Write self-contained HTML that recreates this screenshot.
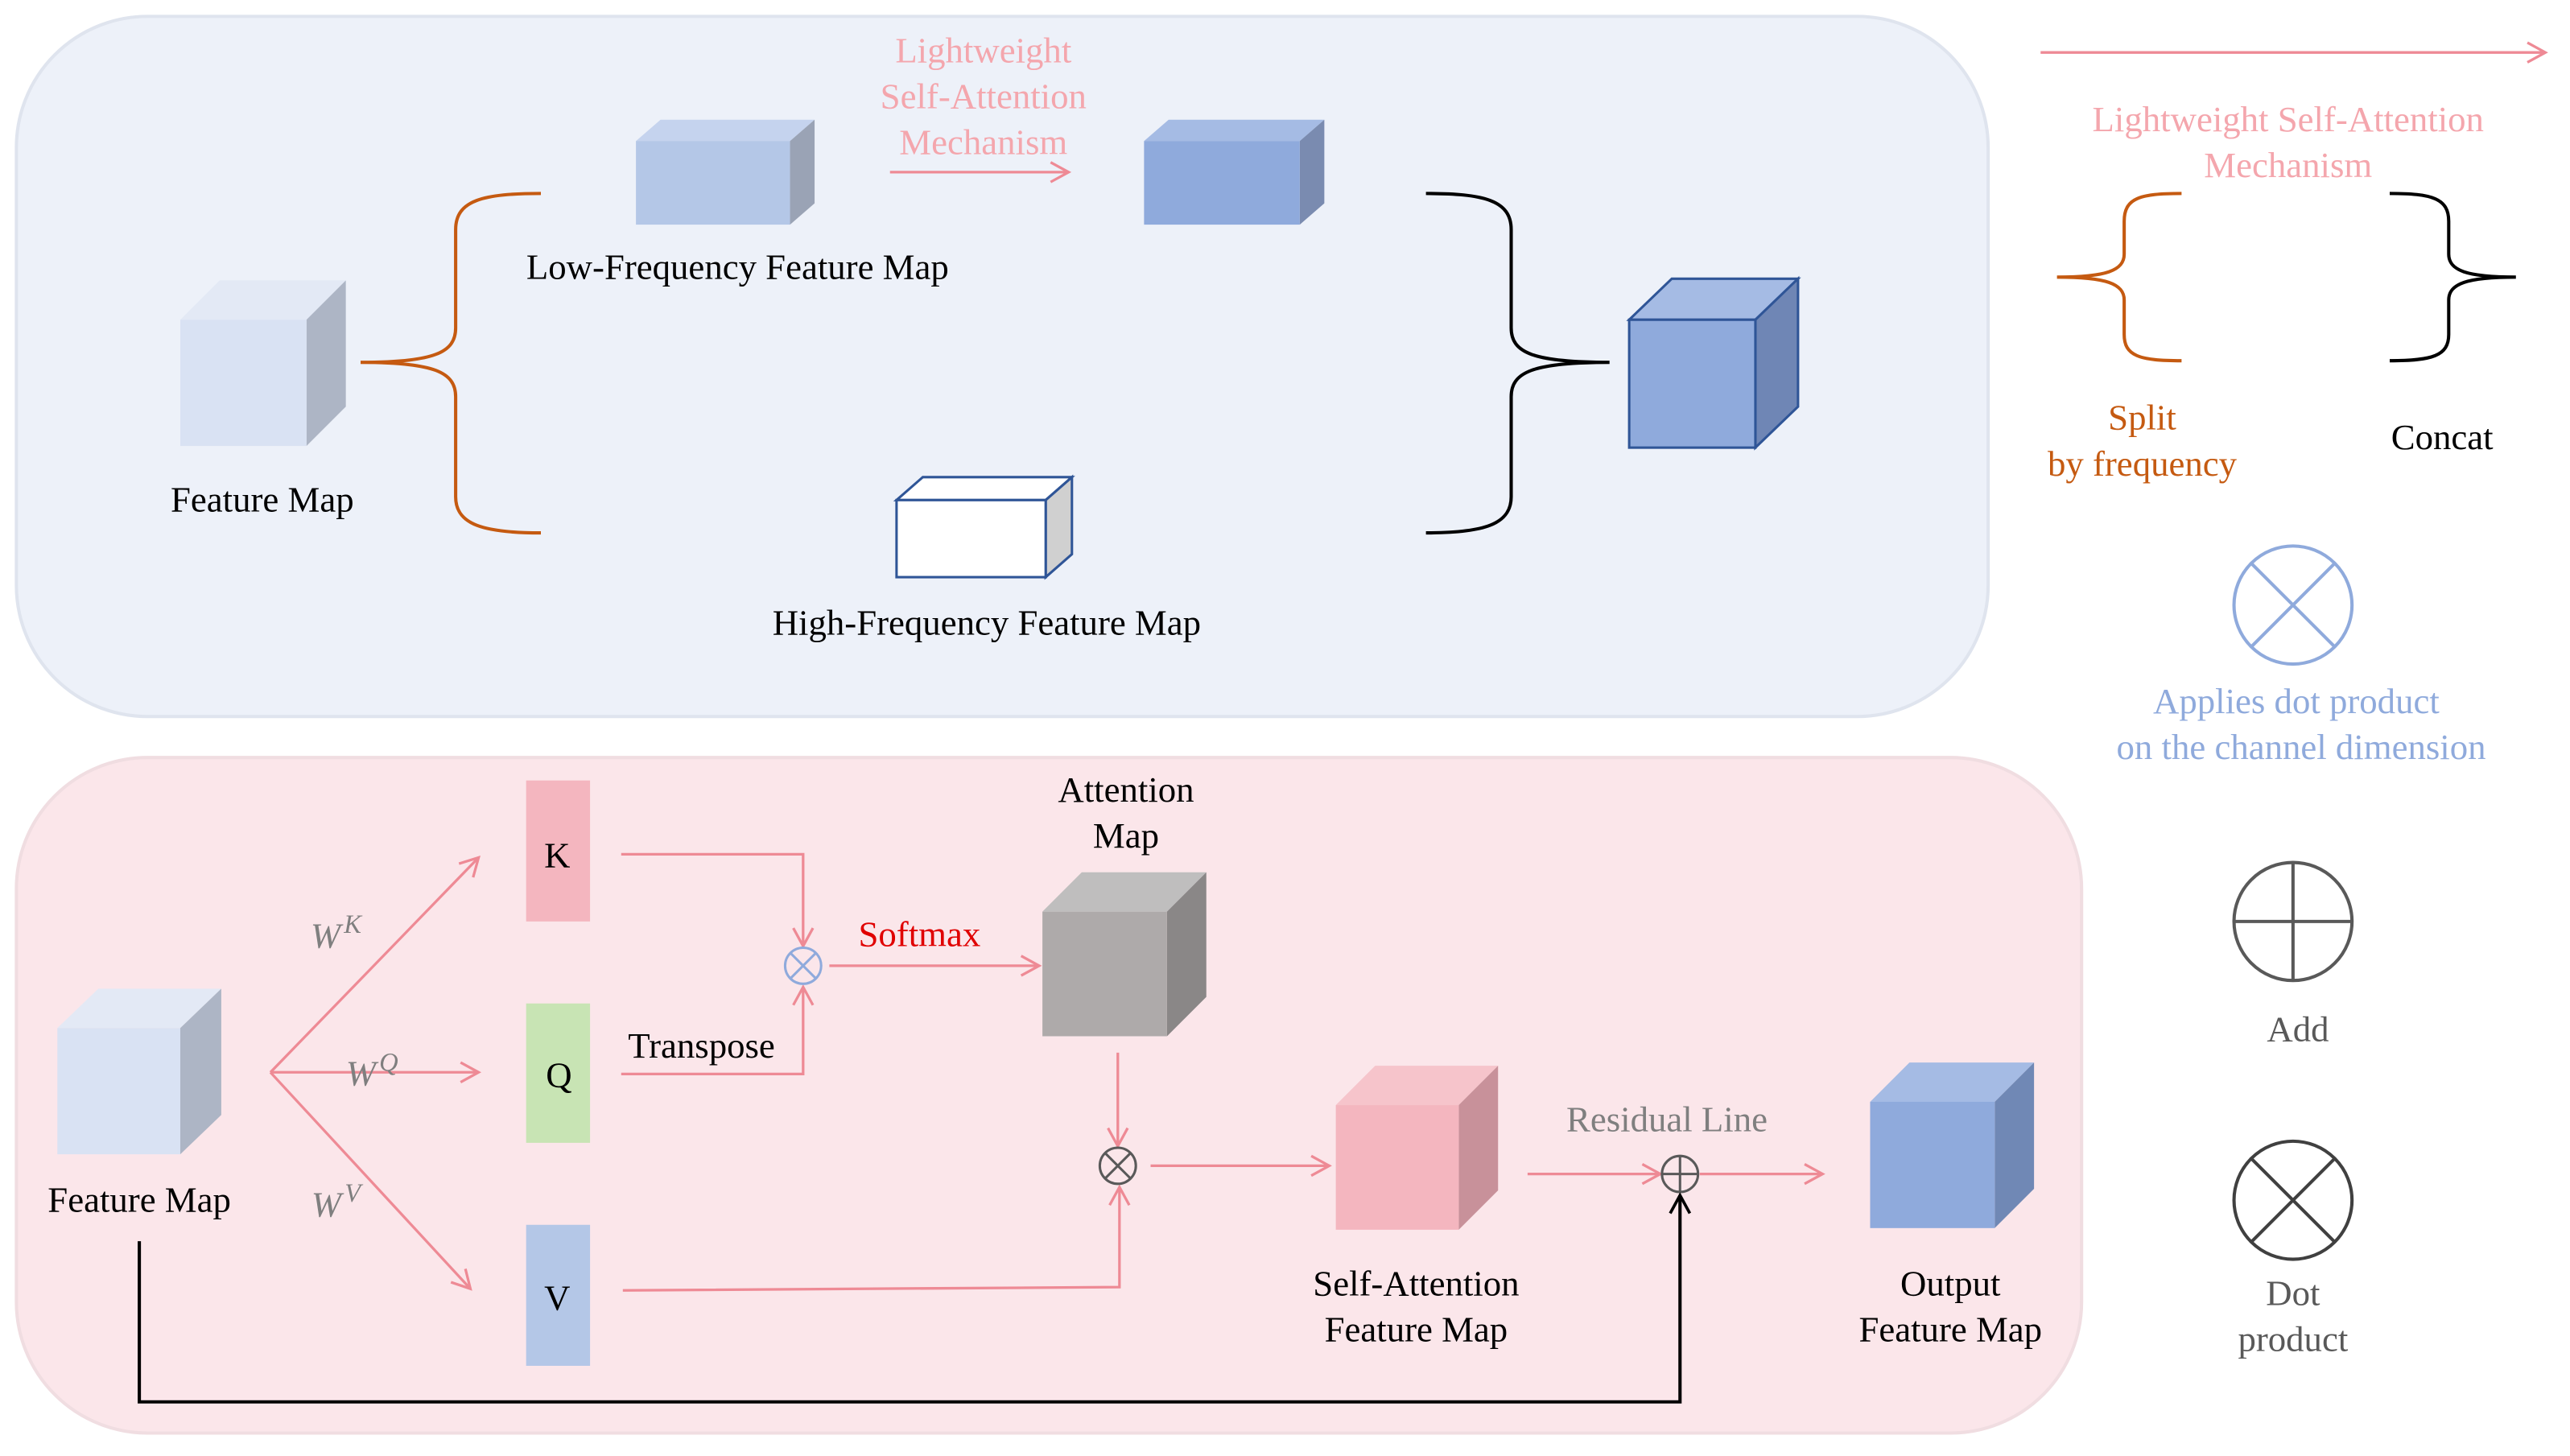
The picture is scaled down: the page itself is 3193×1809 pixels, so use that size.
<!DOCTYPE html>
<html><head><meta charset="utf-8"><style>
html,body{margin:0;padding:0;background:#fff;}
svg{display:block;}
svg text{font-family:"Liberation Serif","DejaVu Serif","Times New Roman",serif;font-size:22px;text-anchor:middle;}
</style></head><body>
<svg width="3193" height="1809" viewBox="0 0 1568 888" preserveAspectRatio="none" xmlns="http://www.w3.org/2000/svg" font-family="Liberation Serif, serif">
<defs>
<marker id="pa" markerWidth="14" markerHeight="14" refX="12" refY="7" orient="auto" markerUnits="userSpaceOnUse"><path d="M1,1 L12,7 L1,13" fill="none" stroke="#ee8a95" stroke-width="1.6"/></marker>
<marker id="ka" markerWidth="14" markerHeight="14" refX="12" refY="7" orient="auto" markerUnits="userSpaceOnUse"><path d="M1,1 L12,7 L1,13" fill="none" stroke="#000" stroke-width="1.8"/></marker>
</defs>
<rect x="10" y="10" width="1203" height="427" rx="80" fill="#edf1f9" stroke="#dfe4ee" stroke-width="2"/>
<rect x="10" y="462" width="1260" height="412" rx="80" fill="#fbe6ea" stroke="#f0dde1" stroke-width="2"/>

<g>
<polygon points="110,195 134,171 211,171 187,195" fill="#e3e9f5"/>
<polygon points="187,195 211,171 211,248 187,272" fill="#adb5c5"/>
<rect x="110" y="195" width="77" height="77" fill="#d9e2f3"/>

<polygon points="388,86 403,73 497,73 482,86" fill="#c5d3ee"/>
<polygon points="482,86 497,73 497,124 482,137" fill="#9aa3b5"/>
<rect x="388" y="86" width="94" height="51" fill="#b4c7e7"/>

<polygon points="698,86 713,73 808,73 793,86" fill="#a5bbe4"/>
<polygon points="793,86 808,73 808,124 793,137" fill="#7a8bb0"/>
<rect x="698" y="86" width="95" height="51" fill="#8faadc"/>

<polygon points="994,195 1020,170 1097,170 1071,195" fill="#a5bbe4" stroke="#2f5597" stroke-width="1.5"/>
<polygon points="1071,195 1097,170 1097,248 1071,273" fill="#6f86b5" stroke="#2f5597" stroke-width="1.5"/>
<rect x="994" y="195" width="77" height="78" fill="#8faadc" stroke="#2f5597" stroke-width="1.5"/>

<polygon points="547,305 563,291 654,291 638,305" fill="#fff" stroke="#2f5597" stroke-width="1.5"/>
<polygon points="638,305 654,291 654,338 638,352" fill="#d0d0d0" stroke="#2f5597" stroke-width="1.5"/>
<rect x="547" y="305" width="91" height="47" fill="#fff" stroke="#2f5597" stroke-width="1.5"/>
</g>
<path d="M330,118 C295,118 278,122 278,140 L278,200 C278,215 265,221 220,221 C265,221 278,227 278,242 L278,303 C278,320 295,325 330,325" fill="none" stroke="#c55a11" stroke-width="2"/>
<path d="M870,118 C905,118 922,122 922,140 L922,200 C922,215 935,221 982,221 C935,221 922,227 922,242 L922,303 C922,320 905,325 870,325" fill="none" stroke="#000" stroke-width="2"/>
<text x="450" y="170">Low-Frequency Feature Map</text>
<text x="160" y="312">Feature Map</text>
<text x="602" y="387">High-Frequency Feature Map</text>
<g fill="#f4a6ad"><text x="600" y="38">Lightweight</text><text x="600" y="66">Self-Attention</text><text x="600" y="94">Mechanism</text></g>
<line x1="543" y1="105" x2="652" y2="105" stroke="#ee8a95" stroke-width="1.6" marker-end="url(#pa)"/>

<line x1="1245" y1="32" x2="1553" y2="32" stroke="#ee8a95" stroke-width="1.6" marker-end="url(#pa)"/>
<g fill="#f4a6ad"><text x="1396" y="80">Lightweight Self-Attention</text><text x="1396" y="108">Mechanism</text></g>
<path d="M1331,118 C1305,118 1296,121 1296,135 L1296,155 C1296,165 1285,169 1255,169 C1285,169 1296,173 1296,183 L1296,204 C1296,217 1305,220 1331,220" fill="none" stroke="#c55a11" stroke-width="2"/>
<path d="M1458,118 C1484,118 1494,121 1494,135 L1494,155 C1494,165 1505,169 1535,169 C1505,169 1494,173 1494,183 L1494,204 C1494,217 1484,220 1458,220" fill="none" stroke="#000" stroke-width="2"/>
<g fill="#c55a11"><text x="1307" y="262">Split</text><text x="1307" y="290">by frequency</text></g>
<text x="1490" y="274">Concat</text>
<g stroke="#8faadc" stroke-width="2" fill="none"><circle cx="1399" cy="369" r="36"/><line x1="1373.5" y1="343.5" x2="1424.5" y2="394.5"/><line x1="1424.5" y1="343.5" x2="1373.5" y2="394.5"/></g>
<g fill="#8faadc"><text x="1401" y="435">Applies dot product</text><text x="1404" y="463">on the channel dimension</text></g>
<g stroke="#595959" stroke-width="2" fill="none"><circle cx="1399" cy="562" r="36"/><line x1="1363" y1="562" x2="1435" y2="562"/><line x1="1399" y1="526" x2="1399" y2="598"/></g>
<text x="1402" y="635" fill="#595959">Add</text>
<g stroke="#404040" stroke-width="2" fill="none"><circle cx="1399" cy="732" r="36"/><line x1="1373.5" y1="706.5" x2="1424.5" y2="757.5"/><line x1="1424.5" y1="706.5" x2="1373.5" y2="757.5"/></g>
<g fill="#595959"><text x="1399" y="796">Dot</text><text x="1399" y="824">product</text></g>

<polygon points="35,627 60,603 135,603 110,627" fill="#e3e9f5"/>
<polygon points="110,627 135,603 135,680 110,704" fill="#adb5c5"/>
<rect x="35" y="627" width="75" height="77" fill="#d9e2f3"/>
<text x="85" y="739">Feature Map</text>
<g stroke="#ee8a95" stroke-width="1.6" fill="none">
<line x1="165" y1="654" x2="292" y2="523" marker-end="url(#pa)"/>
<line x1="165" y1="654" x2="292" y2="654" marker-end="url(#pa)"/>
<line x1="165" y1="654" x2="287" y2="786" marker-end="url(#pa)"/>
<polyline points="379,521 490,521 490,577" marker-end="url(#pa)"/>
<polyline points="379,655 490,655 490,602" marker-end="url(#pa)"/>
<line x1="506" y1="589" x2="634" y2="589" marker-end="url(#pa)"/>
<line x1="682" y1="642" x2="682" y2="699" marker-end="url(#pa)"/>
<polyline points="380,787 683,785 683,724" marker-end="url(#pa)"/>
<line x1="702" y1="711" x2="811" y2="711" marker-end="url(#pa)"/>
<line x1="932" y1="716" x2="1013" y2="716" marker-end="url(#pa)"/>
<line x1="1037" y1="716" x2="1112" y2="716" marker-end="url(#pa)"/>
</g>
<g fill="#7f7f7f" font-style="italic"><text x="205" y="578">W<tspan font-size="16" dx="2" dy="-9">K</tspan></text><text x="227" y="662">W<tspan font-size="16" dx="2" dy="-9">Q</tspan></text><text x="205" y="742">W<tspan font-size="16" dx="2" dy="-9">V</tspan></text></g>
<rect x="321" y="476" width="39" height="86" fill="#f4b6bf"/>
<rect x="321" y="612" width="39" height="85" fill="#c8e4b4"/>
<rect x="321" y="747" width="39" height="86" fill="#b4c7e7"/>
<text x="340" y="529">K</text><text x="341" y="663">Q</text><text x="340" y="799">V</text>
<g stroke="#8faadc" stroke-width="1.5" fill="none"><circle cx="490" cy="589" r="11"/><line x1="482" y1="581" x2="498" y2="597"/><line x1="498" y1="581" x2="482" y2="597"/></g>
<text x="428" y="645">Transpose</text>
<text x="561" y="577" fill="#e00000">Softmax</text>
<text x="687" y="489">Attention</text><text x="687" y="517">Map</text>
<polygon points="636,556 660,532 736,532 712,556" fill="#bfbebe"/>
<polygon points="712,556 736,532 736,608 712,632" fill="#8a8787"/>
<rect x="636" y="556" width="76" height="76" fill="#aeaaaa"/>
<g stroke="#595959" stroke-width="1.5" fill="none"><circle cx="682" cy="711" r="11"/><line x1="674" y1="703" x2="690" y2="719"/><line x1="690" y1="703" x2="674" y2="719"/></g>
<polygon points="815,674 839,650 914,650 890,674" fill="#f6c4cb"/>
<polygon points="890,674 914,650 914,726 890,750" fill="#c8919a"/>
<rect x="815" y="674" width="75" height="76" fill="#f4b6bf"/>
<text x="864" y="790">Self-Attention</text><text x="864" y="818">Feature Map</text>
<text x="1017" y="690" fill="#7f7f7f">Residual Line</text>
<g stroke="#595959" stroke-width="1.5" fill="none"><circle cx="1025" cy="716" r="11"/><line x1="1014" y1="716" x2="1036" y2="716"/><line x1="1025" y1="705" x2="1025" y2="727"/></g>
<polygon points="1141,672 1165,648 1241,648 1217,672" fill="#a5bbe4"/>
<polygon points="1217,672 1241,648 1241,725 1217,749" fill="#7088b5"/>
<rect x="1141" y="672" width="76" height="77" fill="#8faadc"/>
<text x="1190" y="790">Output</text><text x="1190" y="818">Feature Map</text>
<polyline points="85,757 85,855 1025,855 1025,729" fill="none" stroke="#000" stroke-width="2" marker-end="url(#ka)"/>
</svg>
</body></html>
